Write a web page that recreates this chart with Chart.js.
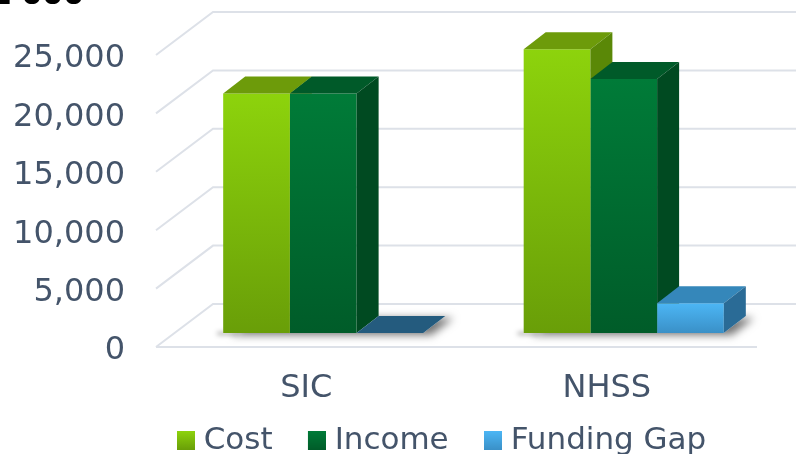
<!DOCTYPE html>
<html>
<head>
<meta charset="utf-8">
<script src="https://cdn.jsdelivr.net/npm/chart.js@4.4.0/dist/chart.umd.min.js"></script>
<style>
  html, body { margin: 0; padding: 0; background: #fff; }
  #chart { display: block; }
</style>
</head>
<body>
<canvas id="chart" width="796" height="454"></canvas>
<script>
// values in £'000
var titleText = "£'000";
var categories = ['SIC', 'NHSS'];
var seriesNames = ['Cost', 'Income', 'Funding Gap'];
var costValues = [20500, 24300];
var incomeValues = [20500, 21750];
var gapValues = [0, 2550];
var yTicks = [0, 5000, 10000, 15000, 20000, 25000];

// colours per series: front gradient, top face, side face
var frontTop = ['#8dd30c', '#007b38', '#4cb6f5'];
var frontBottom = ['#699e08', '#005c29', '#3a90c7'];
var topFace = ['#6d9b0a', '#005a29', '#3587ba'];
var sideFace = ['#5a8807', '#004a21', '#2a6b96'];
var flatFace = '#245b7e';
var textColor = '#44546a';
var gridColor = '#dde1e8';

var DEPTH_X = 22, DEPTH_Y = 17;   // depth of a bar
var WALL_X = 57, WALL_Y = 43;     // depth of the floor
var SHIFT_X = 17, SHIFT_Y = 14;   // bars sit a bit behind the front edge
var ICON_W = 36.5;                // legend slot for the colour square

Chart.defaults.font.family = 'DejaVu Sans';

function frontFill(i) {
  return function(c) {
    var chart = c.chart;
    if (!chart.chartArea || c.type !== 'data') return frontTop[i];
    var ys = chart.scales.y;
    var top = ys.getPixelForValue(c.raw || 0), base = ys.getPixelForValue(0);
    if (base - top < 1) return frontBottom[i];
    var g = chart.ctx.createLinearGradient(0, top, 0, base);
    g.addColorStop(0, frontTop[i]);
    g.addColorStop(1, frontBottom[i]);
    return g;
  };
}

// square sits at the right end of the icon so it lands close to its text
function legendIcon(i) {
  var cv = document.createElement('canvas');
  cv.width = 50; cv.height = 19;
  var g = cv.getContext('2d');
  var gr = g.createLinearGradient(0, 0, 0, 19);
  gr.addColorStop(0, frontTop[i]);
  gr.addColorStop(1, frontBottom[i]);
  g.fillStyle = gr;
  g.fillRect(32, 0, 18, 19);
  return cv;
}
var legendIcons = [legendIcon(0), legendIcon(1), legendIcon(2)];

function poly(ctx, pts) {
  ctx.beginPath();
  ctx.moveTo(pts[0][0], pts[0][1]);
  for (var k = 1; k < pts.length; k++) ctx.lineTo(pts[k][0], pts[k][1]);
  ctx.closePath();
  ctx.fill();
}

function barBox(chart, i, j) {
  var b = chart.getDatasetMeta(i).data[j].getProps(['x', 'y', 'base', 'width'], true);
  return { x0: b.x - b.width / 2, x1: b.x + b.width / 2, top: b.y, base: b.base };
}

var depthPlugin = {
  id: 'depth',
  beforeDatasetsDraw: function(chart) {
    var ctx = chart.ctx, a = chart.chartArea, ys = chart.scales.y;
    // back wall + side wall grid lines
    ctx.save();
    ctx.strokeStyle = gridColor;
    ctx.lineWidth = 2;
    ys.ticks.forEach(function(t) {
      var py = ys.getPixelForValue(t.value);
      ctx.beginPath();
      ctx.moveTo(a.left, py);
      ctx.lineTo(a.left + WALL_X, py - WALL_Y);
      ctx.lineTo(a.right + WALL_X, py - WALL_Y);
      ctx.stroke();
    });
    ctx.beginPath();
    ctx.moveTo(a.left, a.bottom);
    ctx.lineTo(a.right, a.bottom);
    ctx.stroke();
    ctx.restore();

    ctx.save();
    ctx.translate(SHIFT_X, -SHIFT_Y);
    // soft shadow under each group
    var n = seriesNames.length;
    categories.forEach(function(c, j) {
      var f = barBox(chart, 0, j), l = barBox(chart, n - 1, j);
      ctx.save();
      ctx.shadowColor = 'rgba(0,0,0,0.55)';
      ctx.shadowBlur = 8;
      ctx.shadowOffsetX = 8;
      ctx.shadowOffsetY = 2;
      ctx.fillStyle = '#fff';
      poly(ctx, [[f.x0, f.base], [l.x1, l.base], [l.x1 + DEPTH_X, l.base - DEPTH_Y], [f.x0 + DEPTH_X, f.base - DEPTH_Y]]);
      // faint shadow at the front-left foot of the group
      ctx.shadowColor = 'rgba(0,0,0,0.35)';
      ctx.shadowBlur = 5;
      ctx.shadowOffsetX = -6;
      ctx.shadowOffsetY = 2;
      poly(ctx, [[f.x0, f.base - 3], [f.x0 + 20, f.base - 3], [f.x0 + 20, f.base], [f.x0, f.base]]);
      ctx.restore();
    });
  },
  afterDatasetsDraw: function(chart) {
    var ctx = chart.ctx, n = seriesNames.length;
    categories.forEach(function(c, j) {
      for (var i = 0; i < n; i++) {
        var b = barBox(chart, i, j);
        ctx.save();
        if (i < n - 1) {
          var nb = barBox(chart, i + 1, j);
          ctx.beginPath();
          ctx.rect(-2000, -2000, 5000, 5000);
          ctx.rect(nb.x0, nb.top, nb.x1 - nb.x0, nb.base - nb.top);
          ctx.clip('evenodd');
        }
        var flat = b.base - b.top < 0.5;
        ctx.fillStyle = flat ? flatFace : topFace[i];
        poly(ctx, [[b.x0, b.top], [b.x1, b.top], [b.x1 + DEPTH_X, b.top - DEPTH_Y], [b.x0 + DEPTH_X, b.top - DEPTH_Y]]);
        if (!flat) {
          ctx.fillStyle = sideFace[i];
          poly(ctx, [[b.x1, b.top], [b.x1 + DEPTH_X, b.top - DEPTH_Y], [b.x1 + DEPTH_X, b.base - DEPTH_Y], [b.x1, b.base]]);
        }
        ctx.restore();
      }
    });
    ctx.restore();
  },
  afterDraw: function(chart) {
    var ctx = chart.ctx;
    ctx.save();
    ctx.font = 'bold 30px "DejaVu Sans"';
    ctx.fillStyle = '#000';
    ctx.textAlign = 'right';
    ctx.textBaseline = 'alphabetic';
    ctx.fillText(titleText, 84, 4);
    ctx.restore();
  }
};

var seriesValues = [costValues, incomeValues, gapValues];

var chart = new Chart(document.getElementById('chart'), {
  type: 'bar',
  data: {
    labels: categories,
    datasets: seriesNames.map(function(name, i) {
      return {
        label: name,
        data: seriesValues[i],
        backgroundColor: frontFill(i),
        borderWidth: 0,
        categoryPercentage: 0.666,
        barPercentage: 1
      };
    })
  },
  options: {
    responsive: false,
    animation: false,
    events: [],
    layout: { padding: { left: 0, right: -62, top: 55, bottom: -12 } },
    plugins: {
      tooltip: { enabled: false },
      legend: {
        position: 'bottom',
        labels: {
          usePointStyle: true,
          pointStyleWidth: ICON_W,
          boxHeight: 19,
          padding: 10,
          color: textColor,
          font: { size: 31 },
          generateLabels: function(chart) {
            var items = Chart.defaults.plugins.legend.labels.generateLabels(chart);
            items.forEach(function(it) { it.pointStyle = legendIcons[it.datasetIndex]; });
            return items;
          }
        }
      }
    },
    scales: {
      x: {
        grid: { display: false, drawTicks: false },
        border: { display: false },
        ticks: { color: textColor, font: { size: 32 }, padding: 22 },
        afterFit: function(s) { s.height = 68; }
      },
      y: {
        min: 0,
        max: 25000,
        grid: { display: false, drawTicks: false },
        border: { display: false },
        afterBuildTicks: function(s) { s.ticks = yTicks.map(function(v) { return { value: v }; }); },
        ticks: {
          color: textColor,
          font: { size: 32 },
          padding: 31,
          labelOffset: 4,
          callback: function(v) { return v.toLocaleString('en-US'); }
        },
        afterFit: function(s) { s.width = 156; }
      },
      // empty right gutter, keeps the legend centred where the original has it
      gutter: {
        position: 'right',
        grid: { display: false, drawTicks: false },
        border: { display: false },
        ticks: { display: false },
        afterFit: function(s) { s.width = 101; }
      }
    }
  },
  plugins: [depthPlugin]
});
</script>
</body>
</html>
